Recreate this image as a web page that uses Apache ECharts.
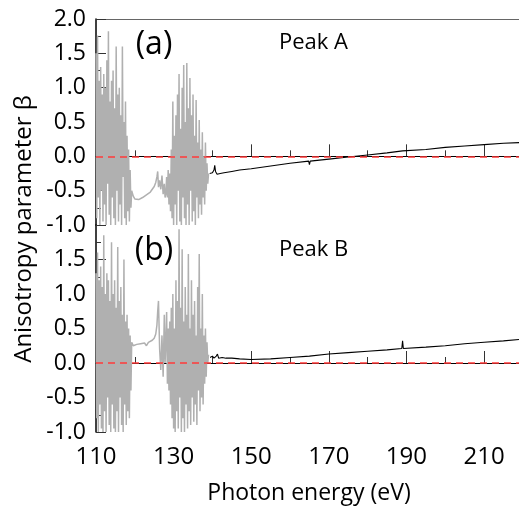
<!DOCTYPE html>
<html>
<head>
<meta charset="utf-8">
<script src="https://cdn.jsdelivr.net/npm/echarts@6/dist/echarts.min.js"></script>
<style>
html,body{margin:0;padding:0;background:#fff;}
#chart{width:519px;height:510px;}
</style>
</head>
<body>
<div id="chart"></div>
<script>
// Photon energies (eV) of the gray (low-energy, noisy) traces, shared by both panels
const energyGray = [
  110.0,110.2,110.4,110.6,110.8,111.0,111.2,111.4,111.6,111.8,
  112.0,112.2,112.4,112.6,112.8,113.0,113.2,113.4,113.6,113.8,
  114.0,114.2,114.4,114.6,114.8,115.0,115.2,115.4,115.6,115.8,
  116.0,116.2,116.4,116.6,116.8,117.0,117.2,117.4,117.6,117.8,
  118.0,118.2,118.4,118.6,118.8,119.0,119.2,
  119.6,120.0,120.5,121.0,121.5,122.0,122.5,123.0,123.5,124.0,
  124.5,125.0,125.4,125.7,125.9,126.1,126.4,126.7,127.0,127.3,127.6,127.8,
  128.0,128.2,128.4,128.6,128.8,129.0,129.2,129.4,129.6,129.8,
  130.0,130.2,130.4,130.6,130.8,131.0,131.2,131.4,131.6,131.8,
  132.0,132.2,132.4,132.6,132.8,133.0,133.2,133.4,133.6,133.8,
  134.0,134.2,134.4,134.6,134.8,135.0,135.2,135.4,135.6,135.8,
  136.0,136.2,136.4,136.6,136.8,137.0,137.2,137.4,137.6,137.8,
  138.0,138.2,138.4,138.6,138.8,139.0
];
// Peak A, gray trace
const betaGrayA = [
  1.5,-0.9,1.76,-0.6,1.1,-1.0,1.3,-0.5,0.9,-0.95,
  1.2,-0.7,1.0,-1.0,1.4,-0.4,1.82,-0.85,0.8,-1.0,
  1.1,-0.6,1.25,-0.9,0.7,-1.0,1.6,-0.5,0.9,-0.95,
  1.0,-0.7,0.6,-1.0,1.6,-0.3,0.5,-0.9,0.8,-1.0,
  0.3,-0.8,0.1,-0.95,-0.2,-0.75,-0.5,
  -0.58,-0.62,-0.63,-0.63,-0.62,-0.6,-0.58,-0.56,-0.54,-0.52,
  -0.48,-0.44,-0.38,-0.3,-0.22,-0.45,-0.35,-0.48,-0.28,-0.55,-0.4,-0.6,
  -0.55,-0.3,-0.6,-0.2,-0.7,-0.25,-0.8,0.1,-0.9,0.8,
  -1.0,0.3,-0.7,0.6,-1.0,0.9,-0.5,1.2,-0.95,0.4,
  -1.0,1.0,-0.6,1.33,-0.9,0.5,-1.0,1.36,-0.7,0.7,
  -1.0,1.14,-0.5,0.6,-0.95,0.9,-0.8,0.3,-1.0,0.82,
  -0.6,0.2,-0.9,0.53,-0.7,0.1,-0.85,0.35,-0.6,0.0,
  -0.7,0.2,-0.5,-0.1,-0.4,-0.25
];
// Peak B, gray trace
const betaGrayB = [
  1.3,-0.8,1.6,-1.0,1.2,-0.6,1.4,-0.95,1.1,-1.0,
  1.85,-0.7,1.0,-1.0,1.3,-0.5,1.2,-0.9,0.9,-1.0,
  1.75,-0.6,1.0,-0.95,1.2,-1.0,0.8,-0.7,1.68,-1.0,
  0.9,-0.5,1.1,-0.9,0.7,-1.0,1.5,-0.6,0.6,-0.9,
  0.7,-0.7,0.5,-0.8,0.4,-0.4,0.3,
  0.25,0.26,0.27,0.27,0.28,0.28,0.29,0.25,0.3,0.31,
  0.33,0.36,0.42,0.55,0.75,0.9,0.2,-0.1,0.4,-0.2,0.7,0.0,
  0.3,0.74,-0.3,0.5,-0.4,0.6,-0.6,0.8,-0.8,1.0,
  -0.95,0.5,-1.0,1.2,-0.7,0.9,-0.95,1.94,-0.5,0.8,
  -1.0,1.65,-0.8,0.6,-1.0,1.1,-0.6,0.7,-0.95,1.58,
  -0.7,0.5,-0.9,1.2,-0.5,0.7,-0.85,0.9,-0.6,0.4,
  -0.9,1.1,-0.4,1.58,-0.7,0.5,-0.5,1.0,-0.6,0.4,
  -0.3,0.5,-0.2,0.3,0.0,0.12
];
// Peak A, black trace
const energyA = [139.3,140.0,140.4,140.6,140.8,141.2,142,143,145,147,150,155,160,164.8,165,165.2,170,175,180,185,189,189.2,189.4,195,200,205,210,215,219];
const betaA = [-0.25,-0.24,-0.2,-0.13,-0.22,-0.26,-0.25,-0.24,-0.22,-0.2,-0.18,-0.14,-0.1,-0.07,-0.12,-0.07,-0.04,-0.01,0.02,0.05,0.08,0.1,0.08,0.1,0.13,0.15,0.17,0.19,0.2];
// Peak B, black trace
const energyB = [139.4,140.0,140.4,141.0,141.3,141.6,142.5,143.5,144.0,144.3,145,147,150,155,160,165,170,175,180,185,188.8,189.0,189.2,195,200,205,210,215,219];
const betaB = [0.08,0.1,0.07,0.1,0.13,0.07,0.08,0.07,0.09,0.07,0.07,0.06,0.05,0.06,0.08,0.1,0.13,0.15,0.17,0.19,0.21,0.32,0.21,0.23,0.25,0.28,0.3,0.32,0.34];

const xMin = 110, xMax = 219, xStep = 20;
const yMin = -1, yMax = 2, yStep = 0.5;
const panelLabels = ['(a)', '(b)'];
const peakLabels = ['Peak A', 'Peak B'];
const xTitle = 'Photon energy (eV)';
const yTitle = 'Anisotropy parameter β';

const FONT = '"Open Sans", "DejaVu Sans", sans-serif';
const pairs = (xs, ys) => xs.map((x, i) => [x, ys[i]]);

function xAxisFor(gi, showLabels) {
  return {
    type: 'value', gridIndex: gi, min: xMin, max: xMax, interval: xStep,
    axisLine: { show: true, lineStyle: { color: '#000', width: 1.2 } },
    axisTick: { show: true, inside: true, length: 12, lineStyle: { color: '#333', width: 1 } },
    minorTick: { show: true, splitNumber: 2, length: 6, lineStyle: { color: '#333', width: 1 } },
    splitLine: { show: false }, minorSplitLine: { show: false },
    axisLabel: {
      show: showLabels, color: '#000', fontFamily: FONT, fontSize: 24, margin: 13,
      showMaxLabel: false,
      formatter: v => (Math.abs((v - xMin) % xStep) < 1e-6 ? String(v) : '')
    }
  };
}
function yAxisFor(gi, hideTop) {
  return {
    type: 'value', gridIndex: gi, min: yMin, max: yMax, interval: yStep,
    axisLine: { show: true, onZero: false, lineStyle: { color: '#000', width: 1.5 } },
    axisTick: { show: true, inside: true, length: 10, lineStyle: { color: '#333', width: 1 } },
    minorTick: { show: true, splitNumber: 2, length: 5, lineStyle: { color: '#333', width: 1 } },
    splitLine: { show: false }, minorSplitLine: { show: false },
    axisLabel: {
      color: '#000', fontFamily: FONT, fontSize: 23, margin: 10,
      formatter: v => (hideTop && Math.abs(v - yMax) < 1e-9) ? '' : v.toFixed(1)
    }
  };
}
function zeroLine() {
  return {
    silent: true, symbol: ['none', 'none'], label: { show: false },
    lineStyle: { color: '#ff3a3a', type: [7, 5], width: 1.6 },
    data: [{ yAxis: 0 }]
  };
}

const chart = echarts.init(document.getElementById('chart'), null, { renderer: 'canvas' });
chart.setOption({
  animation: false,
  backgroundColor: '#fff',
  grid: [
    { left: 96, top: 19, width: 423, height: 206 },
    { left: 96, top: 225, width: 423, height: 207 }
  ],
  xAxis: [
    xAxisFor(0, false),
    xAxisFor(1, true),
    { type: 'value', gridIndex: 0, position: 'top', min: xMin, max: xMax,
      axisLine: { show: true, lineStyle: { color: '#666', width: 1 } },
      axisTick: { show: false }, axisLabel: { show: false }, splitLine: { show: false } }
  ],
  yAxis: [yAxisFor(0, false), yAxisFor(1, true)],
  series: [
    { type: 'line', xAxisIndex: 0, yAxisIndex: 0, data: pairs(energyGray, betaGrayA),
      showSymbol: false, symbol: 'none', lineStyle: { color: '#b0b0b0', width: 1.5 }, z: 2 },
    { type: 'line', xAxisIndex: 0, yAxisIndex: 0, data: pairs(energyA, betaA),
      showSymbol: false, symbol: 'none', lineStyle: { color: '#000', width: 1.1 }, z: 3,
      markLine: zeroLine() },
    { type: 'line', xAxisIndex: 1, yAxisIndex: 1, data: pairs(energyGray, betaGrayB),
      showSymbol: false, symbol: 'none', lineStyle: { color: '#b0b0b0', width: 1.5 }, z: 2 },
    { type: 'line', xAxisIndex: 1, yAxisIndex: 1, data: pairs(energyB, betaB),
      showSymbol: false, symbol: 'none', lineStyle: { color: '#000', width: 1.1 }, z: 3,
      markLine: zeroLine() }
  ],
  graphic: [
    { type: 'text', x: 154, y: 45, z: 10, style: { text: panelLabels[0], fontFamily: FONT, fontSize: 32, fill: '#000', align: 'center', verticalAlign: 'middle' } },
    { type: 'text', x: 154, y: 251, z: 10, style: { text: panelLabels[1], fontFamily: FONT, fontSize: 32, fill: '#000', align: 'center', verticalAlign: 'middle' } },
    { type: 'text', x: 279, y: 43, z: 10, style: { text: peakLabels[0], fontFamily: FONT, fontSize: 22, fill: '#000', align: 'left', verticalAlign: 'middle' } },
    { type: 'text', x: 279, y: 250, z: 10, style: { text: peakLabels[1], fontFamily: FONT, fontSize: 22, fill: '#000', align: 'left', verticalAlign: 'middle' } },
    { type: 'text', x: 309, y: 493, z: 10, style: { text: xTitle, fontFamily: FONT, fontSize: 23, fill: '#000', align: 'center', verticalAlign: 'middle' } },
    { type: 'text', x: 24, y: 229, rotation: Math.PI / 2, z: 10, style: { text: yTitle, fontFamily: FONT, fontSize: 24, fill: '#000', align: 'center', verticalAlign: 'middle' } }
  ]
});
</script>
</body>
</html>
